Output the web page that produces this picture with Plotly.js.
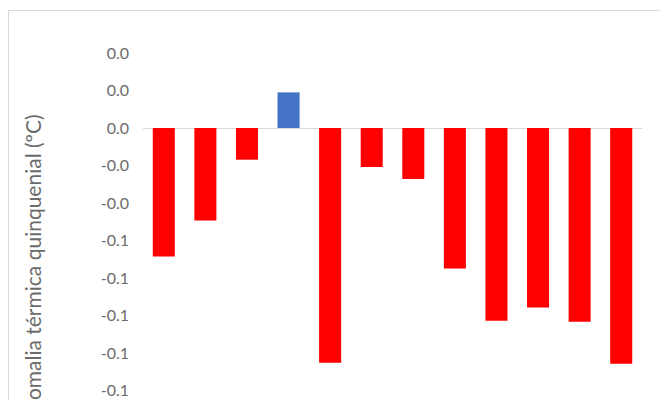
<!DOCTYPE html>
<html>
<head>
<meta charset="utf-8">
<script src="https://cdn.plot.ly/plotly-3.0.1.min.js"></script>
<style>html,body{margin:0;padding:0;background:#fff;}#chart{width:660px;height:400px;}</style>
</head>
<body>
<div id="chart"></div>
<script>
// Data
const categories = ["1","2","3","4","5","6","7","8","9","10","11","12"];
const anomalies = [-0.0686, -0.0494, -0.0169, 0.0190, -0.1252, -0.0208, -0.0272, -0.0750, -0.1028, -0.0958, -0.1033, -0.1257];
const tickValues = [0.04, 0.02, 0, -0.02, -0.04, -0.06, -0.08, -0.10, -0.12, -0.14];
const tickLabels = ["0.0", "0.0", "0.0", "-0.0", "-0.0", "-0.1", "-0.1", "-0.1", "-0.1", "-0.1"];
const yTitle = "Anomalia térmica quinquenial (ºC)";

const barColors = anomalies.map(v => v >= 0 ? "#4472C4" : "#FF0000");
const fontFam = "Lato, 'Open Sans', sans-serif";

const trace = {
  type: "bar",
  x: categories,
  y: anomalies,
  marker: {color: barColors, line: {width: 0}},
  hoverinfo: "skip"
};

const layout = {
  width: 660, height: 400,
  margin: {l: 143, r: 18, t: 53, b: 0, pad: 0},
  paper_bgcolor: "#ffffff",
  plot_bgcolor: "#ffffff",
  showlegend: false,
  bargap: 0.47,
  font: {family: fontFam, color: "#595959", size: 16},
  xaxis: {
    type: "category",
    showticklabels: false,
    showgrid: false,
    zeroline: false,
    showline: false,
    ticks: ""
  },
  yaxis: {
    range: [-0.14507, 0.04],
    tickvals: tickValues,
    ticktext: tickLabels,
    showgrid: false,
    zeroline: true,
    zerolinecolor: "#d9d9d9",
    zerolinewidth: 1,
    showline: false,
    ticks: "",
    ticklabelstandoff: 13,
    tickfont: {family: fontFam, color: "#6b6b6b", size: 16},
    automargin: false
  },
  shapes: [{
    type: "rect", xref: "paper", yref: "paper",
    x0: -0.2695, x1: 1.2, y0: -0.2, y1: 1.1225,
    line: {color: "#d9d9d9", width: 1},
    fillcolor: "rgba(0,0,0,0)",
    layer: "below"
  }],
  annotations: [{
    text: yTitle,
    xref: "paper", yref: "paper",
    x: -0.2204, y: 0.83,
    xanchor: "center", yanchor: "top",
    textangle: -90,
    showarrow: false,
    font: {family: fontFam, color: "#6b6b6b", size: 21}
  }]
};

Plotly.newPlot("chart", [trace], layout, {staticPlot: true, displayModeBar: false});
</script>
</body>
</html>
